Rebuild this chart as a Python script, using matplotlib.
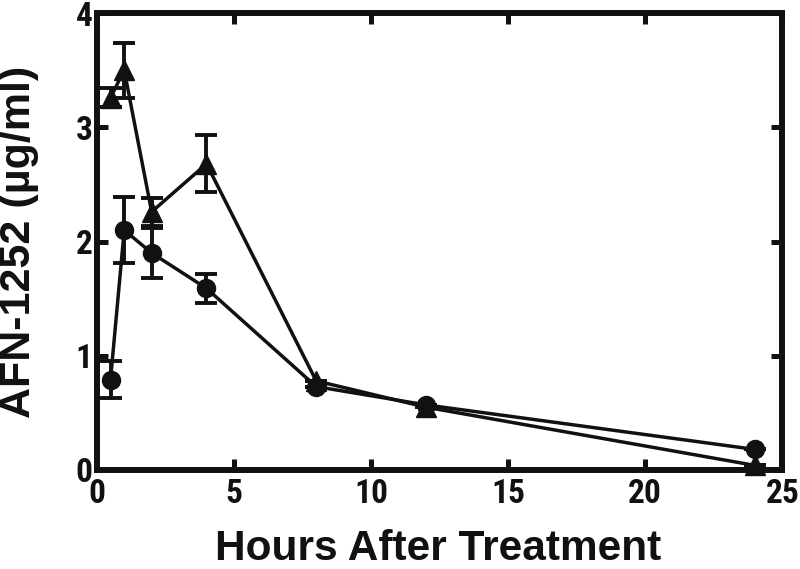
import matplotlib
matplotlib.use('Agg')
import matplotlib.pyplot as plt

# data
hours = [0.5, 1, 2, 4, 8, 12, 24]
circle_vals = [0.79, 2.10, 1.90, 1.59, 0.73, 0.57, 0.18]
circle_err = [0.16, 0.29, 0.22, 0.13, 0, 0, 0]
tri_vals = [3.26, 3.50, 2.26, 2.68, 0.78, 0.55, 0.04]
tri_err = [0.08, 0.24, 0.12, 0.25, 0, 0, 0]
xticks = [0, 5, 10, 15, 20, 25]
yticks = [0, 1, 2, 3, 4]

plt.rcParams['font.family'] = ['Roboto Condensed', 'DejaVu Sans']
plt.rcParams['font.weight'] = 'bold'

fig = plt.figure(figsize=(8, 5.69), dpi=100)
ax = fig.add_axes([0.121, 0.174, 0.857, 0.803])

col = '#111111'
ax.errorbar(hours, tri_vals, yerr=tri_err, color=col, marker='^', markersize=14,
            lw=2.5, elinewidth=2.8, capsize=8, capthick=2.8, clip_on=False, zorder=3)
ax.errorbar(hours, circle_vals, yerr=circle_err, color=col, marker='o', markersize=13,
            lw=2.5, elinewidth=2.8, capsize=8, capthick=2.8, clip_on=False, zorder=4)

ax.set_xlim(0, 25)
ax.set_ylim(0, 4)
ax.set_xticks(xticks)
ax.set_yticks(yticks)
ax.tick_params(direction='in', length=8, width=3.6, labelsize=24, colors=col,
               top=True, right=True)
ax.tick_params(axis='x', pad=6)
ax.tick_params(axis='y', pad=3)
for s in ax.spines.values():
    s.set_linewidth(4.3)
    s.set_color(col)

lab = ['Liberation Sans', 'DejaVu Sans']
ax.set_xlabel('Hours After Treatment', fontsize=30.5, fontweight='bold', color=col, family=lab)
ax.set_ylabel('AFN-1252 (\u00b5g/ml)', fontsize=31, fontweight='bold', color=col, family=lab)
ax.xaxis.set_label_coords(0.498, -0.129)
ax.yaxis.set_label_coords(-0.084, 0.5)

fig.savefig('out.png', dpi=100)
